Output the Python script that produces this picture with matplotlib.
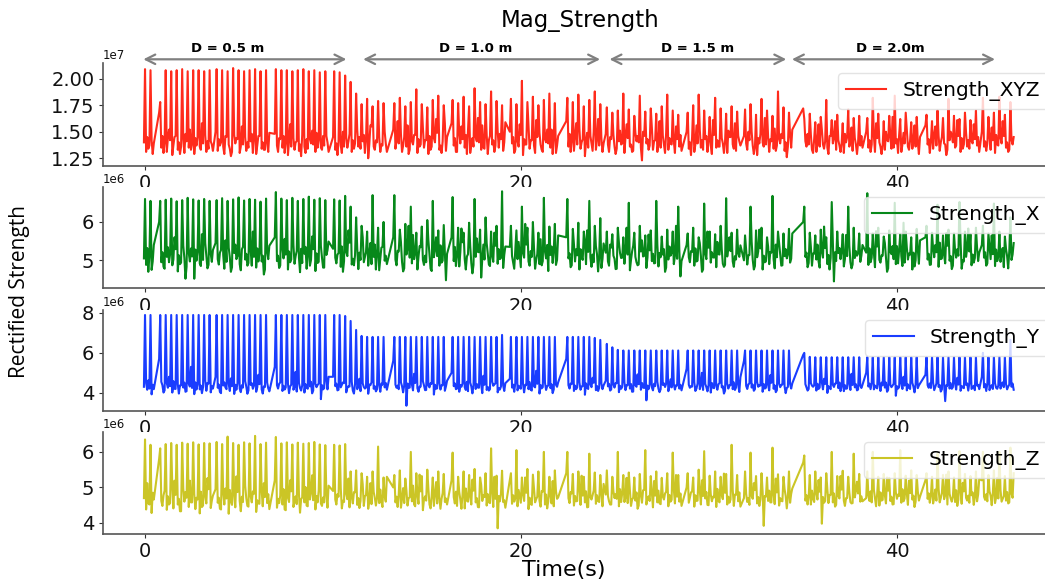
import numpy as np
import matplotlib
matplotlib.use("Agg")
import matplotlib.pyplot as plt

# ---------------- data ----------------
# contiguous recording chunks: start time (s) and number of spike periods
chunk_start = [-0.058, 0.75, 3.75, 6.90, 10.00, 13.20, 16.30, 19.40,
               22.40, 24.50, 28.80, 31.85, 35.00, 38.35, 41.50, 44.50]
chunk_periods = [2, 10, 10, 10, 10, 10, 10, 9, 7, 14, 10, 9, 11, 10, 10, 6]
spike_period = 0.292

# spike peaks, one per period (XYZ in 1e5 units, X/Y/Z in 1e4 units)
peaks_xyz = [209, 208,
             178, 208, 207, 208, 209, 207, 208, 208, 207, 208,
             209, 208, 207, 210, 208, 207, 208, 209, 207, 208,
             209, 208, 208, 207, 208, 209, 207, 208, 206, 207,
             207, 206, 203, 197, 186, 176, 181, 174, 179, 177,
             177, 182, 174, 178, 190, 176, 173, 180, 184, 175,
             180, 177, 183, 174, 191, 178, 176, 188, 179, 175,
             181, 176, 198, 178, 183, 175, 180, 186, 177,
             182, 178, 185, 174, 180, 188, 176,
             173, 168, 170, 186, 171, 165, 184, 169, 172, 167, 174, 185, 170, 166,
             168, 175, 185, 170, 164, 182, 172, 167, 174, 169,
             171, 176, 166, 181, 170, 165, 188, 173, 168,
             162, 167, 159, 164, 180, 161, 166, 158, 171, 163, 165,
             163, 182, 167, 160, 165, 184, 162, 168, 159, 164,
             166, 160, 170, 163, 181, 165, 162, 168, 161, 170,
             182, 164, 168, 183, 166, 178]
peaks_x = [660, 655,
           655, 658, 661, 654, 657, 663, 659, 656, 660, 655,
           657, 662, 655, 659, 664, 656, 660, 658, 653, 661,
           678, 661, 657, 663, 655, 660, 666, 658, 662, 657,
           659, 656, 668, 640, 612, 590, 575, 670, 585, 600,
           670, 580, 595, 640, 572, 588, 605, 655, 578, 592,
           665, 585, 572, 598, 660, 580, 612, 575, 590, 680,
           590, 578, 640, 585, 600, 572, 663, 588, 595,
           660, 582, 598, 575, 655, 590, 610,
           575, 568, 585, 560, 650, 572, 590, 565, 578, 655, 562, 580, 575, 640,
           570, 585, 560, 648, 575, 568, 590, 662, 572, 580,
           565, 640, 578, 585, 560, 668, 575, 570, 582,
           640, 572, 565, 580, 560, 652, 575, 568, 640, 585, 570,
           675, 570, 585, 562, 578, 650, 568, 575, 560, 582,
           590, 572, 645, 565, 580, 570, 652, 575, 568, 585,
           590, 570, 648, 575, 562, 612]
peaks_y = [790, 790,
           790, 790, 790, 790, 790, 790, 790, 790, 790, 790,
           790, 790, 790, 790, 790, 790, 790, 790, 790, 790,
           790, 790, 790, 790, 790, 790, 790, 790, 790, 790,
           790, 790, 785, 760, 715, 685, 680, 680, 680, 680,
           680, 680, 680, 680, 680, 680, 680, 680, 680, 680,
           680, 680, 680, 680, 680, 680, 680, 680, 680, 690,
           680, 680, 680, 680, 680, 680, 680, 680, 680,
           680, 680, 680, 680, 680, 675, 665,
           645, 628, 615, 612, 612, 612, 612, 612, 612, 612, 612, 612, 612, 612,
           612, 612, 612, 612, 612, 612, 612, 612, 612, 612,
           612, 612, 612, 612, 612, 612, 612, 612, 612,
           600, 580, 578, 578, 578, 578, 578, 578, 578, 578, 578,
           578, 578, 578, 578, 578, 578, 578, 578, 578, 578,
           578, 578, 578, 578, 578, 578, 578, 578, 578, 578,
           600, 578, 578, 580, 578, 665]
peaks_z = [635, 620,
           610, 622, 625, 620, 626, 623, 627, 621, 625, 624,
           628, 622, 643, 625, 620, 627, 624, 645, 622, 626,
           642, 624, 627, 621, 626, 623, 625, 628, 621, 619,
           620, 618, 622, 545, 548, 540, 530, 545, 615, 528,
           535, 548, 525, 600, 540, 532, 550, 528, 545, 538,
           598, 530, 545, 535, 552, 528, 540, 610, 533, 547,
           540, 605, 528, 552, 536, 545, 600, 530, 548,
           600, 538, 545, 530, 595, 542, 535,
           548, 530, 600, 535, 542, 528, 538, 605, 532, 545, 527, 540, 598, 535,
           540, 528, 550, 602, 533, 545, 530, 538, 620, 535,
           545, 598, 532, 540, 528, 612, 537, 530, 545,
           590, 535, 545, 528, 540, 600, 532, 547, 530, 595, 538,
           545, 600, 530, 538, 527, 540, 605, 533, 548, 535,
           540, 530, 595, 535, 545, 528, 602, 538, 532, 545,
           600, 535, 548, 600, 532, 612]

# baseline samples, four per period (same units as the peaks)
base_xyz = [140, 131, 145, 134, 137, 142, 129, 139,
            168, 135, 146, 130, 139, 131, 144, 152, 142, 128, 137, 145, 146, 133, 140, 129, 136, 143, 130, 148,
            141, 135, 152, 133, 138, 129, 144, 137, 145, 136, 133, 158, 139, 147, 131, 141, 134, 141, 138, 132,
            150, 132, 143, 137, 140, 136, 129, 146, 145, 138, 134, 127, 131, 147, 139, 144, 143, 130, 136, 155,
            138, 145, 132, 140, 135, 141, 148, 130, 142, 129, 137, 146, 146, 134, 140, 133, 133, 139, 131, 149,
            148, 137, 131, 144, 143, 135, 146, 130, 139, 128, 141, 157, 136, 144, 133, 140, 141, 132, 138, 127,
            147, 136, 130, 143, 134, 143, 139, 151, 138, 131, 149, 135, 142, 135, 133, 146, 137, 146, 140, 131,
            145, 133, 139, 128, 141, 137, 130, 150, 136, 144, 135, 141, 148, 131, 142, 134, 139, 152, 136, 145,
            134, 141, 147, 130, 143, 125, 138, 156, 155, 136, 133, 142, 140, 145, 131, 138, 137, 150, 139, 131,
            152, 134, 142, 160, 139, 148, 131, 137, 145, 136, 156, 129, 133, 141, 138, 147, 147, 130, 143, 136,
            138, 154, 135, 142, 142, 129, 146, 133, 136, 144, 140, 162, 149, 133, 137, 130, 141, 158, 132, 145,
            158, 137, 144, 131, 131, 149, 139, 155, 143, 135, 147, 129, 152, 130, 138, 144, 136, 145, 141, 163,
            140, 133, 156, 135, 134, 147, 129, 142, 146, 138, 142, 131, 137, 151, 135, 148, 143, 132, 140, 159,
            150, 139, 145, 130, 133, 141, 136, 157, 147, 128, 143, 138, 138, 155, 134, 142, 142, 137, 130, 161,
            145, 149, 138, 133, 131, 143, 140, 152, 139, 135, 152, 129, 144, 130, 137, 146,
            160, 136, 148, 131, 141, 132, 145, 158, 138, 153, 134, 140, 143, 127, 140, 149, 135, 146, 139, 132,
            150, 133, 142, 162, 137, 144, 131, 139,
            148, 138, 131, 145, 143, 147, 136, 129, 134, 141, 151, 138, 139, 130, 145, 157, 144, 136, 138, 131,
            132, 149, 141, 146, 140, 135, 123, 150, 146, 139, 143, 133, 137, 154, 133, 141, 142, 131, 140, 160,
            135, 146, 138, 130, 149, 133, 144, 139, 138, 141, 130, 155, 143, 136, 147, 132,
            150, 134, 140, 128, 145, 131, 138, 156, 139, 152, 135, 142, 133, 143, 146, 131, 141, 137, 129, 161,
            147, 135, 142, 136, 136, 144, 139, 130, 140, 130, 151, 145, 145, 138, 134, 158, 132, 146, 141, 137,
            146, 139, 133, 150, 142, 150, 137, 129, 135, 128, 144, 139, 148, 140, 136, 163, 138, 145, 131, 143,
            141, 134, 153, 132, 137, 143, 139, 148, 144, 132, 140, 126, 136, 147, 135, 152,
            172, 141, 136, 148, 138, 147, 133, 130, 143, 131, 140, 157, 136, 152, 138, 134, 141, 135, 129, 146,
            146, 139, 144, 160, 133, 142, 137, 131, 139, 130, 148, 140, 145, 136, 141, 154, 132, 144, 138, 129,
            140, 137, 146, 135,
            150, 135, 142, 131, 138, 146, 131, 158, 144, 140, 136, 129, 137, 133, 150, 142, 141, 145, 134, 164,
            135, 139, 143, 130, 147, 131, 138, 149, 139, 152, 136, 133, 142, 134, 141, 156, 136, 140, 129, 145,
            156, 138, 143, 130, 141, 134, 147, 155, 137, 146, 132, 140, 145, 139, 138, 128, 133, 142, 150, 147,
            140, 135, 137, 161, 146, 131, 144, 134, 138, 149, 136, 142, 134, 141, 139, 157, 143, 137, 145, 131,
            150, 136, 141, 132, 139, 145, 133, 154, 142, 130, 147, 138, 137, 144, 139, 160, 146, 135, 140, 131,
            133, 142, 138, 145]
base_x = [505, 488, 532, 470, 512, 475, 497, 540,
          600, 495, 521, 483, 478, 509, 534, 495, 516, 487, 502, 560, 529, 471, 513, 490, 494, 538, 506, 452,
          483, 519, 497, 531, 510, 452, 528, 499, 523, 492, 485, 568, 501, 545, 511, 479, 488, 517, 496, 527,
          545, 503, 489, 520, 527, 514, 478, 552, 496, 533, 508, 470, 482, 519, 541, 503, 511, 490, 474, 529,
          535, 502, 517, 486, 493, 526, 486, 575, 509, 481, 531, 497, 518, 497, 512, 463, 476, 521, 503, 538,
          560, 498, 512, 480, 487, 531, 505, 556, 515, 476, 523, 495, 502, 540, 491, 511, 524, 508, 469, 530,
          493, 517, 535, 478, 510, 486, 501, 562, 529, 472, 518, 493, 496, 537, 507, 481, 481, 514, 526, 549,
          530, 507, 492, 515, 519, 483, 536, 470, 498, 521, 511, 578, 546, 489, 504, 487, 513, 532, 477, 520,
          501, 560, 495, 508, 522, 486, 518, 545, 490, 509, 541, 476, 517, 474, 503, 533, 535, 499, 512, 490,
          560, 502, 487, 525, 523, 548, 496, 471, 479, 515, 531, 590, 507, 492, 566, 503, 518, 476, 509, 537,
          534, 501, 488, 512, 495, 552, 514, 478, 472, 508, 527, 560, 511, 486, 539, 494, 499, 521, 448, 517,
          560, 498, 535, 485, 512, 484, 521, 583, 547, 503, 476, 510, 516, 538, 493, 466, 488, 509, 557, 522,
          521, 455, 504, 541, 502, 545, 517, 489, 485, 512, 496, 572, 538, 491, 529, 503, 506, 480, 514, 536,
          535, 511, 494, 478, 527, 503, 548, 515, 482, 519, 507, 595, 541, 497, 486, 524, 509, 532, 478, 501,
          516, 490, 555, 487, 498, 523, 505, 540, 472, 514, 536, 493, 526, 488, 501, 565,
          560, 505, 518, 482, 487, 542, 497, 529, 513, 476, 529, 507, 501, 551, 490, 578, 522, 508, 483, 515,
          495, 537, 516, 471, 509, 480, 503, 544,
          520, 497, 486, 541, 533, 512, 504, 477, 478, 546, 519, 506, 507, 491, 528, 585, 515, 474, 501, 523,
          538, 509, 495, 487, 489, 523, 552, 510, 512, 480, 507, 567, 526, 498, 517, 492, 493, 541, 484, 519,
          508, 515, 529, 470, 481, 502, 536, 512, 519, 490, 511, 590, 504, 527, 458, 498,
          540, 508, 495, 524, 522, 486, 531, 497, 499, 545, 512, 470, 476, 517, 503, 575, 533, 494, 521, 508,
          507, 482, 548, 516, 515, 529, 491, 483, 488, 510, 537, 560, 524, 497, 483, 511, 502, 518, 509, 539,
          500, 527, 489, 513, 514, 549, 501, 476, 485, 508, 523, 580, 531, 476, 512, 495, 497, 536, 490, 522,
          520, 503, 479, 541, 508, 545, 516, 486, 487, 511, 529, 505, 516, 494, 504, 570,
          600, 509, 520, 482, 493, 535, 486, 518, 517, 502, 541, 497, 481, 523, 507, 588, 532, 490, 514, 476,
          506, 547, 445, 521, 498, 519, 532, 503, 525, 484, 503, 566, 511, 538, 495, 479, 489, 506, 524, 512,
          518, 496, 512, 540,
          520, 488, 531, 495, 507, 519, 482, 576, 536, 501, 494, 513, 512, 545, 508, 470, 479, 522, 516, 537,
          503, 490, 537, 492, 527, 511, 485, 598, 494, 533, 502, 518, 515, 476, 520, 484, 500, 528, 491, 552,
          560, 502, 517, 488, 489, 531, 508, 540, 521, 483, 546, 503, 505, 514, 492, 571, 538, 499, 511, 477,
          486, 525, 507, 529, 512, 548, 478, 500, 497, 509, 530, 583, 523, 487, 515, 494, 506, 534, 498, 520,
          540, 507, 521, 486, 492, 538, 503, 565, 516, 485, 528, 498, 509, 496, 519, 532, 482, 530, 511, 479,
          524, 501, 515, 545]
base_y = [430, 448, 415, 462, 421, 392, 440, 418,
          570, 455, 438, 401, 412, 447, 425, 480, 433, 401, 458, 420, 419, 442, 396, 437, 437, 426, 451, 405,
          408, 445, 431, 530, 424, 393, 452, 416, 441, 417, 436, 398, 428, 460, 410, 449, 446, 402, 433, 421,
          480, 425, 441, 404, 398, 436, 452, 427, 418, 445, 409, 472, 433, 394, 440, 415, 447, 421, 403, 438,
          426, 458, 431, 395, 412, 439, 448, 420, 435, 405, 427, 490, 443, 417, 396, 432, 429, 451, 422, 407,
          530, 438, 421, 445, 452, 409, 435, 416, 427, 446, 398, 432, 440, 415, 431, 505, 406, 449, 424, 411,
          437, 401, 443, 428, 420, 432, 455, 397, 411, 444, 428, 439, 446, 368, 438, 417, 423, 459, 417, 480,
          480, 433, 446, 412, 415, 427, 439, 452, 448, 402, 425, 433, 431, 455, 411, 396, 443, 418, 436, 470,
          408, 447, 429, 421, 426, 395, 441, 438, 452, 420, 433, 407, 417, 438, 405, 446, 440, 427, 449, 415,
          560, 441, 425, 436, 418, 452, 433, 402, 437, 335, 446, 424, 426, 441, 412, 495, 449, 423, 405, 431,
          431, 458, 437, 413, 414, 436, 427, 448, 445, 391, 440, 420, 422, 448, 416, 437, 438, 410, 432, 460,
          500, 433, 447, 418, 421, 405, 439, 430, 446, 428, 414, 455, 408, 451, 432, 397, 437, 419, 444, 426,
          425, 443, 398, 485, 440, 414, 429, 411, 418, 456, 435, 442, 447, 402, 423, 416, 431, 437, 409, 448,
          470, 426, 441, 405, 449, 412, 435, 427, 420, 445, 402, 440, 438, 418, 453, 415, 411, 432, 427, 510,
          445, 396, 439, 422, 428, 451, 414, 433, 436, 423, 442, 398, 417, 440, 430, 452,
          570, 438, 421, 446, 444, 409, 436, 418, 427, 452, 415, 431, 433, 390, 447, 425, 419, 441, 428, 475,
          450, 413, 434, 409, 425, 446, 418, 437,
          460, 432, 445, 411, 417, 440, 426, 449, 448, 403, 435, 420, 429, 452, 413, 438, 438, 421, 444, 405,
          406, 437, 430, 492, 443, 415, 449, 426, 424, 362, 436, 418, 441, 427, 412, 445, 433, 455, 420, 403,
          418, 439, 447, 429, 445, 408, 431, 467, 427, 443, 416, 438, 436, 421, 440, 412,
          520, 440, 425, 433, 431, 452, 409, 421, 446, 418, 437, 500, 414, 444, 428, 407, 439, 401, 449, 426,
          423, 436, 415, 443, 448, 427, 433, 396, 410, 445, 421, 438, 437, 418, 452, 414, 426, 441, 404, 478,
          560, 435, 419, 442, 447, 426, 441, 410, 418, 453, 430, 437, 436, 405, 444, 421, 425, 439, 412, 488,
          450, 420, 437, 403, 413, 446, 428, 439, 441, 432, 398, 424, 429, 444, 421, 447,
          590, 443, 427, 411, 419, 448, 436, 430, 437, 411, 445, 419, 426, 452, 417, 470, 444, 399, 433, 425,
          418, 440, 429, 446, 447, 423, 451, 408, 431, 408, 438, 420, 422, 446, 414, 495, 439, 427, 443, 412,
          416, 435, 424, 440,
          500, 431, 446, 418, 448, 417, 436, 427, 422, 443, 409, 451, 437, 426, 451, 405, 414, 439, 428, 436,
          445, 385, 433, 421, 428, 447, 419, 480, 436, 412, 442, 425, 419, 450, 431, 402, 442, 423, 437, 446,
          490, 438, 425, 447, 424, 451, 413, 430, 446, 429, 439, 406, 417, 443, 358, 438, 435, 421, 448, 420,
          428, 446, 416, 475, 441, 410, 434, 427, 423, 439, 447, 411, 448, 419, 427, 435, 413, 436, 440, 418,
          480, 427, 444, 409, 445, 413, 432, 438, 419, 448, 425, 420, 436, 421, 441, 452, 428, 444, 417, 431,
          441, 430, 446, 415]
base_z = [470, 438, 512, 455, 452, 428, 485, 466,
          580, 462, 448, 478, 491, 437, 475, 452, 456, 503, 441, 519, 479, 452, 468, 433, 433, 497, 460, 487,
          471, 445, 519, 458, 458, 482, 439, 471, 466, 427, 488, 445, 449, 474, 455, 526, 495, 442, 463, 477,
          495, 457, 471, 440, 438, 484, 452, 497, 469, 426, 493, 461, 451, 478, 444, 531, 487, 462, 433, 474,
          459, 505, 470, 448, 446, 475, 458, 489, 482, 431, 464, 455, 454, 491, 447, 512, 473, 456, 481, 439,
          520, 443, 468, 456, 477, 452, 495, 438, 436, 471, 459, 520, 489, 445, 462, 475, 453, 483, 429, 467,
          472, 458, 501, 449, 447, 466, 485, 534, 464, 438, 476, 458, 491, 455, 448, 472, 458, 479, 443, 505,
          490, 466, 452, 481, 474, 498, 441, 463, 459, 482, 467, 525, 444, 473, 455, 487, 486, 451, 470, 442,
          462, 509, 448, 476, 478, 440, 463, 512, 453, 487, 471, 449, 469, 456, 494, 460, 445, 475, 460, 530,
          500, 458, 474, 445, 481, 443, 467, 498, 456, 492, 449, 470, 472, 461, 505, 452, 447, 478, 454, 536,
          489, 436, 466, 475, 463, 496, 452, 441, 476, 448, 483, 515, 455, 471, 440, 468, 484, 459, 469, 452,
          520, 473, 455, 488, 448, 488, 466, 440, 479, 441, 497, 463, 460, 475, 452, 522, 491, 458, 470, 445,
          444, 507, 462, 478, 473, 449, 481, 458, 456, 487, 445, 530, 468, 385, 476, 461, 482, 459, 464, 443,
          520, 454, 478, 460, 469, 447, 493, 475, 457, 481, 462, 528, 485, 439, 471, 453, 451, 496, 458, 467,
          474, 463, 446, 490, 488, 452, 480, 441, 461, 477, 455, 518, 447, 490, 468, 472,
          540, 470, 456, 487, 483, 449, 476, 461, 462, 501, 451, 533, 477, 458, 489, 444, 445, 472, 466, 479,
          491, 454, 478, 462, 459, 485, 447, 510,
          480, 476, 461, 452, 452, 489, 470, 481, 468, 447, 495, 459, 484, 459, 473, 527, 456, 492, 448, 466,
          471, 463, 486, 440, 449, 478, 457, 492, 493, 452, 469, 475, 462, 485, 444, 518, 477, 458, 491, 455,
          453, 474, 466, 483, 488, 447, 479, 460, 465, 494, 455, 535, 474, 460, 483, 448,
          500, 457, 471, 486, 489, 446, 478, 462, 463, 492, 452, 520, 476, 469, 487, 451, 450, 481, 461, 474,
          472, 445, 496, 463, 458, 478, 467, 539, 485, 452, 474, 457, 466, 493, 448, 480, 479, 461, 486, 446,
          470, 482, 459, 470, 451, 476, 468, 512, 493, 455, 473, 448, 467, 488, 392, 476, 474, 462, 491, 458,
          458, 479, 453, 525, 486, 449, 470, 463, 461, 495, 476, 441, 473, 457, 482, 497,
          570, 463, 478, 452, 475, 452, 491, 468, 459, 484, 466, 521, 488, 398, 473, 457, 462, 495, 456, 479,
          479, 458, 483, 446, 451, 476, 469, 532, 494, 463, 448, 470, 470, 487, 459, 455, 456, 472, 490, 516,
          483, 460, 475, 461,
          470, 477, 462, 489, 458, 493, 471, 447, 482, 449, 486, 463, 465, 478, 455, 528, 491, 462, 474, 452,
          453, 486, 468, 480, 476, 457, 495, 461, 469, 482, 451, 519, 484, 466, 477, 445, 460, 489, 463, 474,
          520, 468, 483, 457, 479, 455, 472, 494, 463, 496, 458, 470, 485, 467, 478, 536, 452, 482, 469, 460,
          474, 459, 492, 448, 466, 487, 454, 513, 489, 471, 463, 477, 457, 478, 486, 451, 472, 461, 480, 524,
          520, 474, 465, 481, 461, 489, 477, 450, 483, 456, 472, 527, 469, 493, 460, 468, 476, 463, 487, 455,
          458, 482, 471, 540]

series_labels = ["Strength_XYZ", "Strength_X", "Strength_Y", "Strength_Z"]
series_units = [1e5, 1e4, 1e4, 1e4]
x_ticks = [0, 20, 40]
y_ticks = [[1.25e7, 1.50e7, 1.75e7, 2.00e7], [5e6, 6e6], [4e6, 6e6, 8e6], [4e6, 5e6, 6e6]]
y_limits = [(1.180e7, 2.148e7), (4.27e6, 6.92e6), (3.10e6, 8.15e6), (3.69e6, 6.56e6)]
dist_labels = ["D = 0.5 m", "D = 1.0 m", "D = 1.5 m", "D = 2.0m"]
dist_spans = [(-0.09, 10.71), (11.6, 24.2), (24.7, 34.1), (34.4, 45.2)]
dist_label_x = [4.4, 17.6, 29.4, 39.65]

colors = ["#ff2b1c", "#07881a", "#1a3dff", "#cbc526"]


def build(peaks, base, unit):
    n_total = sum(chunk_periods)
    assert len(peaks) == n_total, (len(peaks), n_total)
    assert len(base) == 4 * n_total, (len(base), 4 * n_total)
    dt = spike_period / 5.0
    ts, vs = [], []
    i = 0
    for s, n in zip(chunk_start, chunk_periods):
        for k in range(n):
            t0 = s + k * spike_period
            b1, b2, b3, b4 = base[4 * i:4 * i + 4]
            ts += [t0 + j * dt for j in range(5)]
            vs += [b1, peaks[i], b2, b3, b4]
            i += 1
    return np.array(ts), np.array(vs, dtype=float) * unit


all_peaks = [peaks_xyz, peaks_x, peaks_y, peaks_z]
all_base = [base_xyz, base_x, base_y, base_z]

W, H = 1045, 579
fig = plt.figure(figsize=(W / 100, H / 100), dpi=100)

left_px, right_px = 102.7, 1058.0
panel_px = [(63.0, 165.7), (186.7, 288.3), (310.0, 410.7), (432.0, 534.0)]

axes = []
for i, (top, bot) in enumerate(panel_px):
    ax = fig.add_axes([left_px / W, 1 - bot / H, (right_px - left_px) / W, (bot - top) / H])
    t, v = build(all_peaks[i], all_base[i], series_units[i])
    ax.plot(t, v, color=colors[i], lw=1.5, label=series_labels[i])
    ax.set_xlim(-2.25, 48.55)
    ax.set_ylim(*y_limits[i])
    ax.set_xticks(x_ticks)
    ax.set_yticks(y_ticks[i])
    for side in ("top", "right"):
        ax.spines[side].set_visible(False)
    for side in ("left", "bottom"):
        ax.spines[side].set_color("#555555")
        ax.spines[side].set_linewidth(1.2)
    ax.tick_params(axis="both", labelsize=14, length=3, pad=3, color="#333333", labelcolor="#111111")
    ax.yaxis.get_offset_text().set_fontsize(8.5)
    leg = ax.legend(loc="upper right", fontsize=14.5, framealpha=0.8)
    leg.get_frame().set_edgecolor("#dddddd")
    axes.append(ax)

ax0 = axes[0]
for (a, b), lab, lx in zip(dist_spans, dist_labels, dist_label_x):
    ax0.annotate("", xy=(a, 1.036), xytext=(b, 1.036),
                 xycoords=("data", "axes fraction"), textcoords=("data", "axes fraction"),
                 arrowprops=dict(arrowstyle="<->", color="#808080", lw=1.6,
                                 shrinkA=0, shrinkB=0, mutation_scale=17),
                 annotation_clip=False)
    ax0.text(lx, 1.141, lab, transform=ax0.get_xaxis_transform(), ha="center", va="center",
             fontsize=9.5, fontweight="bold", clip_on=False)

fig.text(580 / W, 1 - 20 / H, "Mag_Strength", ha="center", va="center", fontsize=16.5)
fig.text(564 / W, 1 - 570 / H, "Time(s)", ha="center", va="center", fontsize=16)
fig.text(20 / W, 1 - 292 / H, "Rectified Strength", rotation=90, ha="center", va="center",
         fontsize=15, family=["Open Sans", "DejaVu Sans"])

fig.savefig("out.png", dpi=100)
